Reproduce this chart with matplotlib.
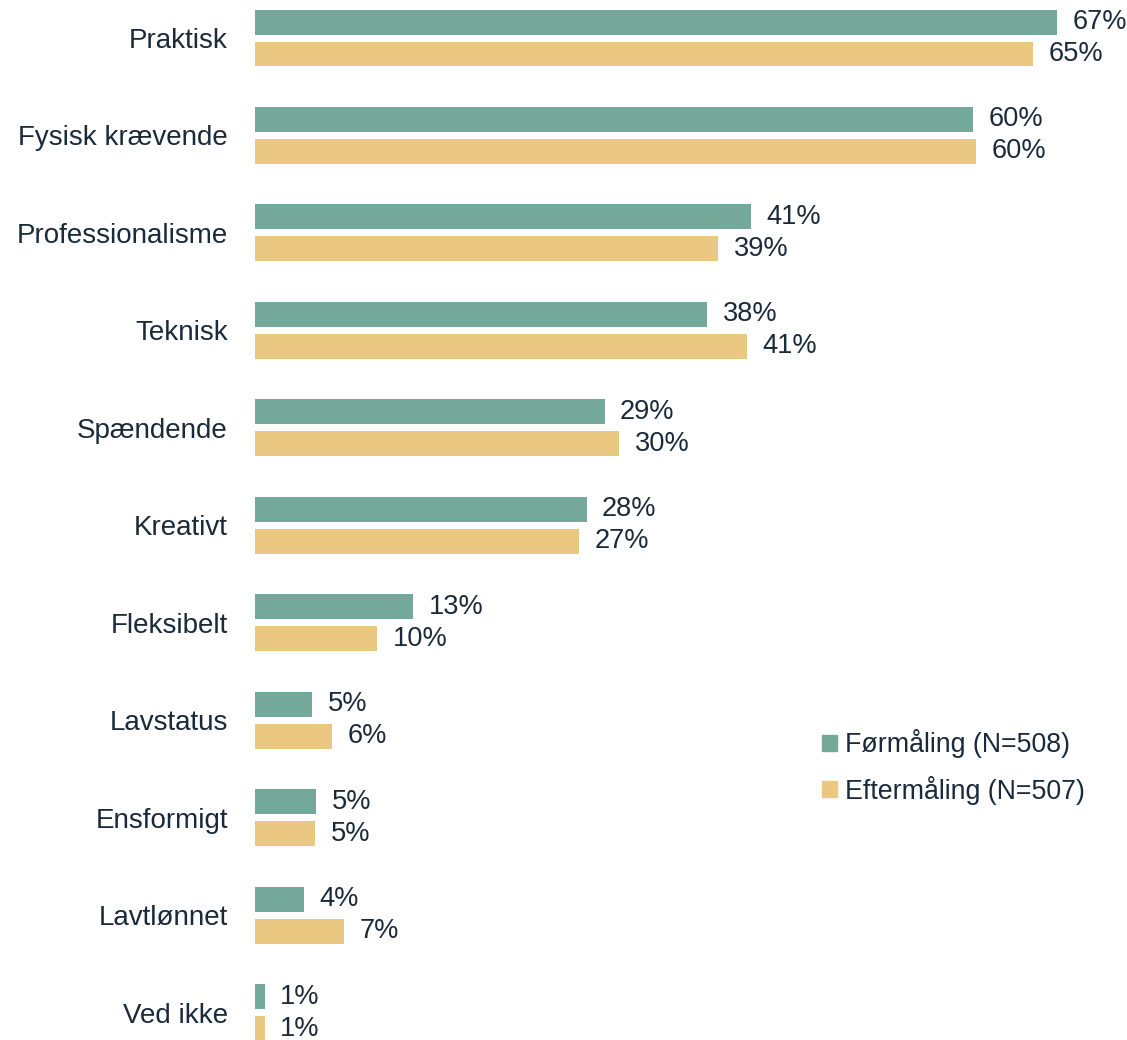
import matplotlib.pyplot as plt
import numpy as np
from matplotlib.patches import Patch

plt.rcParams['font.family'] = ['Liberation Sans', 'DejaVu Sans']

# Data
kategorier = ['Praktisk', 'Fysisk krævende', 'Professionalisme', 'Teknisk',
              'Spændende', 'Kreativt', 'Fleksibelt', 'Lavstatus',
              'Ensformigt', 'Lavtlønnet', 'Ved ikke']
foer = [67.0, 60.0, 41.4, 37.8, 29.2, 27.7, 13.2, 4.8, 5.1, 4.1, 0.8]
efter = [65.0, 60.2, 38.7, 41.1, 30.4, 27.1, 10.2, 6.4, 5.0, 7.4, 0.8]
serier = ['Førmåling (N=508)', 'Eftermåling (N=507)']

groen = '#74A899'
gul = '#EAC882'
tekst = '#1B2A3A'

fig = plt.figure(figsize=(11.27, 10.4), dpi=100)
ax = fig.add_axes([255 / 1127, 0, 1 - 255 / 1127, 1])

y = np.arange(len(kategorier))
h = 0.256
off = 0.164
b1 = ax.barh(y - off, foer, height=h, color=groen)
b2 = ax.barh(y + off, efter, height=h, color=gul)

# Værdier ved enden af søjlerne
for bars, vals in [(b1, foer), (b2, efter)]:
    for bar, v in zip(bars, vals):
        ax.text(bar.get_width() + 1.3, bar.get_y() + bar.get_height() / 2,
                f'{v:.0f}%', va='center', ha='left', fontsize=19.6, color=tekst)

ax.set_xlim(0, 72.85)
ax.set_ylim(10.28, -0.39)
ax.set_yticks(y)
ax.set_yticklabels(kategorier, fontsize=20, color=tekst)
ax.tick_params(axis='y', length=0, pad=19.5)
ax.set_xticks([])
for s in ax.spines.values():
    s.set_visible(False)

handles = [Patch(color=groen), Patch(color=gul)]
fig.legend(handles, serier, loc='center left', bbox_to_anchor=(798 / 1127, 1 - 767 / 1040),
           frameon=False, fontsize=19.3, labelcolor=tekst, handlelength=0.55, handleheight=0.55,
           handletextpad=0.3, labelspacing=0.65)

fig.savefig('out.png', dpi=100)
